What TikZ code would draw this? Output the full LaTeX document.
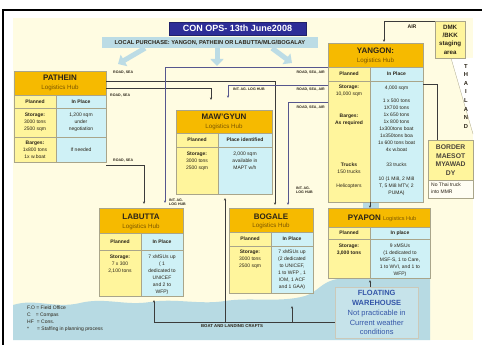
\documentclass[tikz,border=0pt]{standalone}
\usepackage{fontspec}
\setmainfont{Liberation Sans}
\usetikzlibrary{arrows.meta,positioning}

\definecolor{paper}{HTML}{FFFCE2}
\definecolor{sea}{HTML}{B7DAE3}
\definecolor{floatblue}{HTML}{C6E3EA}
\definecolor{floattext}{HTML}{3456A8}
\definecolor{hubgold}{HTML}{F6BA00}
\definecolor{planyellow}{HTML}{FFF59C}
\definecolor{placecyan}{HTML}{CFF1F6}
\definecolor{cellline}{HTML}{A9A58A}
\definecolor{opsblue}{HTML}{2D2D97}
\definecolor{buyblue}{HTML}{BCDCE5}
\definecolor{roadgray}{HTML}{3B3B3B}
\definecolor{agpurple}{HTML}{56568E}
\definecolor{inkdark}{HTML}{2B2418}
\definecolor{subbrown}{HTML}{7A5500}

\newcommand{\cellfont}{\fontsize{5}{7}\selectfont}
\newcommand{\hubnamefont}{\fontsize{8}{9}\selectfont\bfseries}
\newcommand{\hubsubfont}{\fontsize{6.2}{7}\selectfont}
\newcommand{\routefont}{\fontsize{3.6}{4.4}\selectfont\bfseries}

\tikzset{
  hubhead/.style={fill=hubgold, draw=cellline, line width=0.3pt, anchor=north west, inner sep=0pt, outer sep=0pt},
  plancell/.style={fill=planyellow, draw=cellline, line width=0.3pt, anchor=north west, inner sep=0pt, outer sep=0pt, align=center, font=\cellfont, text=inkdark},
  placecell/.style={plancell, fill=placecyan},
  colhead/.style={font=\cellfont\bfseries},
  hubname/.style={font=\hubnamefont, text=inkdark, inner sep=0pt},
  hubsub/.style={font=\hubsubfont, text=subbrown, inner sep=0pt},
  celltext/.style={font=\cellfont, text=inkdark, align=center, inner sep=0pt, anchor=north},
  routelabel/.style={font=\routefont, text=inkdark, inner sep=0pt, align=left},
  road/.style={draw=roadgray, line width=0.6pt},
  agroad/.style={draw=agpurple, line width=0.6pt},
  >={Stealth[length=2.6pt,width=2.2pt]},
  buyarrow/.style={draw=buyblue, line width=5pt, -{Triangle[length=7pt,width=13pt]}}
}

\begin{document}
\begin{tikzpicture}[x=1pt, y=-1pt]
\useasboundingbox (0,0) rectangle (482,345);
\fill[white] (0,0) rectangle (482,345);
\fill[paper] (13,18) rectangle (473,340);
\draw[line width=1.3pt] (3,345) -- (3,10) -- (482,10);

% Thailand edge
\fill[white] (451,58) -- (474,58) -- (474,136) -- cycle;
\draw[cellline, line width=0.3pt] (451,58) -- (473,134);

% sea and river
\fill[sea] (13,305) .. controls (35,298) and (55,309) .. (80,303)
  .. controls (105,297) and (125,306) .. (150,302)
  .. controls (175,298) and (200,305) .. (225,301)
  .. controls (250,297) and (280,303) .. (305,296)
  .. controls (318,292) and (322,281) .. (338,279)
  -- (430,278) -- (430,340) -- (13,340) -- cycle;
\fill[sea] (363,200) rectangle (379,210);

% title
\node[fill=opsblue, draw=opsblue!70!black, minimum width=137pt, minimum height=13pt, inner sep=0pt, text=white, font=\fontsize{9}{10}\selectfont\bfseries] (title) at (237.5,28.5) {CON OPS- 13th June2008};
\node[fill=buyblue, minimum width=216pt, minimum height=11pt, inner sep=0pt, text=inkdark, font=\fontsize{5.7}{6}\selectfont\bfseries] (purchase) at (210,42.5) {LOCAL PURCHASE: YANGON, PATHEIN OR LABUTTA/MLG/BOGALAY};
\coordinate (buyleft) at (118,64);
\coordinate (buymid) at (217,66);
\coordinate (buyright) at (292,63);
\draw[buyarrow] (purchase.south -| 145,0) -- (buyleft);
\draw[buyarrow] (purchase.south -| buymid) -- (buymid);
\draw[buyarrow] (purchase.south -| 272,0) -- (buyright);

% Pathein
\node[hubhead, minimum width=92pt, minimum height=24pt] (pathein) at (14,71) {};
\node[hubname] (patheinname) at (60,78) {PATHEIN};
\node[hubsub] (patheinsub) at (60,88) {Logistics Hub};
\node[plancell, colhead, minimum width=42pt, minimum height=13pt] (patheinplan) at (14,95) {Planned};
\node[placecell, colhead, minimum width=50pt, minimum height=13pt] (patheinplace) at (56,95) {In Place};
\node[plancell, minimum width=42pt, minimum height=29pt] (patheinstore) at (14,108) {\textbf{Storage:}\\3000 tons\\2500 sqm};
\node[placecell, minimum width=50pt, minimum height=29pt] (patheinsqm) at (56,108) {1,200 sqm\\under\\negotiation};
\node[plancell, minimum width=42pt, minimum height=25pt] (patheinbarge) at (14,137) {\textbf{Barges:}\\1x800 tons\\1x w.boat};
\node[placecell, minimum width=50pt, minimum height=25pt] (patheinneed) at (56,137) {If needed};

% Maw'Gyun
\node[hubhead, minimum width=96pt, minimum height=23pt] (mawgyun) at (176,110) {};
\node[hubname] (mawgyunname) at (224,117) {MAW'GYUN};
\node[hubsub] (mawgyunsub) at (224,127) {Logistics Hub};
\node[plancell, colhead, minimum width=42pt, minimum height=14pt] (mawgyunplan) at (176,133) {Planned};
\node[placecell, colhead, minimum width=54pt, minimum height=14pt] (mawgyunplace) at (218,133) {Place identified};
\node[plancell, minimum width=42pt, minimum height=47pt] (mawgyunstore) at (176,147) {};
\node[placecell, minimum width=54pt, minimum height=47pt] (mawgyunavail) at (218,147) {};
\node[celltext] (mawgyunst) at (197,152) {\textbf{Storage:}\\3000 tons\\2500 sqm};
\node[celltext] (mawgyunav) at (245,152) {2,000 sqm\\available in\\MAPT w/h};

% Yangon
\node[hubhead, minimum width=95pt, minimum height=24pt] (yangon) at (328,43) {};
\node[hubname] (yangonname) at (375.5,51) {YANGON:};
\node[hubsub] (yangonsub) at (375.5,61) {Logistics Hub};
\node[plancell, colhead, minimum width=42pt, minimum height=14pt] (yangonplan) at (328,67) {Planned};
\node[placecell, colhead, minimum width=53pt, minimum height=14pt] (yangonplace) at (370,67) {In Place};
\node[plancell, minimum width=42pt, minimum height=121pt] (yangonstore) at (328,81) {};
\node[placecell, minimum width=53pt, minimum height=121pt] (yangonstock) at (370,81) {};
\node[celltext] (yangonst) at (349,85) {\textbf{Storage:}\\10,000 sqm};
\node[celltext] (yangonbg) at (349,114) {\textbf{Barges:}\\\textbf{As required}};
\node[celltext] (yangontr) at (349,163) {\textbf{Trucks}\\150 trucks};
\node[celltext] (yangonhe) at (349,184) {Helicopters};
\node[celltext] (yangonsq) at (396.5,86) {4,000 sqm};
\node[celltext] (yangonbt) at (396.5,99) {1 x 500 tons\\1X700 tons\\1x 650 tons\\1x 800 tons\\1x300tons boat\\1x350tons boa\\1x 600 tons boat\\4x w.boat};
\node[celltext] (yangontk) at (396.5,163) {33 trucks};
\node[celltext] (yangonmi) at (396.5,177) {10 (1 Mi8, 2 Mi8\\T, 5 Mi8 MTV, 2\\PUMA)};

% DMK, border, Thailand
\node[fill=planyellow, draw=cellline, line width=0.3pt, minimum width=30pt, minimum height=37pt, anchor=north west, inner sep=0pt, align=center, font=\fontsize{6.2}{8.3}\selectfont\bfseries, text=inkdark] (dmk) at (435,21) {DMK\\/BKK\\staging\\area};
\node[fill=planyellow, draw=cellline, line width=0.3pt, minimum width=45pt, minimum height=40pt, anchor=north west, inner sep=0pt, align=center, font=\fontsize{6.8}{8.5}\selectfont\bfseries, text=inkdark!85] (border) at (428,140) {BORDER\\MAESOT\\MYAWAD\\DY};
\node[fill=white!60!paper, draw=cellline, line width=0.3pt, minimum width=45pt, minimum height=18pt, anchor=north west, inner sep=0pt] (nothai) at (428,180) {};
\node[font=\cellfont, align=left, anchor=north west, inner sep=0pt, text=inkdark] (nothaitext) at (431,182.5) {No Thai truck\\into MMR};
\node[font=\fontsize{5.8}{8.6}\selectfont\bfseries, align=center, inner sep=0pt, text=inkdark, anchor=north] (thailand) at (466,64) {T\\H\\A\\I\\L\\A\\N\\D};

% Labutta
\node[hubhead, minimum width=84pt, minimum height=25pt] (labutta) at (99,208) {};
\node[hubname] (labuttaname) at (141,217) {LABUTTA};
\node[hubsub] (labuttasub) at (141,227) {Logistics Hub};
\node[plancell, colhead, minimum width=42pt, minimum height=17pt] (labuttaplan) at (99,233) {Planned};
\node[placecell, colhead, minimum width=42pt, minimum height=17pt] (labuttaplace) at (141,233) {In Place};
\node[plancell, minimum width=42pt, minimum height=46pt] (labuttastore) at (99,250) {};
\node[placecell, minimum width=42pt, minimum height=46pt] (labuttamsu) at (141,250) {};
\node[celltext] (labuttast) at (120,255) {\textbf{Storage:}\\7 x 300\\2,100 tons};
\node[celltext] (labuttams) at (162,255) {7 xMSUs up\\( 1\\dedicated to\\UNICEF\\and 2 to\\WFP)};

% Bogale
\node[hubhead, minimum width=84pt, minimum height=24pt] (bogale) at (229,208) {};
\node[hubname] (bogalename) at (271,217) {BOGALE};
\node[hubsub] (bogalesub) at (271,226) {Logistics Hub};
\node[plancell, colhead, minimum width=42pt, minimum height=14pt] (bogaleplan) at (229,232) {Planned};
\node[placecell, colhead, minimum width=42pt, minimum height=14pt] (bogaleplace) at (271,232) {In Place};
\node[plancell, minimum width=42pt, minimum height=47pt] (bogalestore) at (229,246) {};
\node[placecell, minimum width=42pt, minimum height=47pt] (bogalemsu) at (271,246) {};
\node[celltext] (bogalest) at (250,250) {\textbf{Storage:}\\3000 tons\\2500 sqm};
\node[celltext] (bogalems) at (292,250) {7 xMSUs up\\(2 dedicated\\to UNICEF,\\1 to WFP , 1\\IOM, 1 ACF\\and 1 GAA)};

% Pyapon
\node[hubhead, minimum width=102pt, minimum height=19pt] (pyapon) at (328,208) {};
\node[hubname] (pyaponname) at (382,218) {PYAPON \textcolor{subbrown}{\mdseries\fontsize{5.5}{6}\selectfont Logistics Hub}};
\node[plancell, colhead, minimum width=42pt, minimum height=12pt] (pyaponplan) at (328,227) {Planned};
\node[placecell, colhead, minimum width=60pt, minimum height=12pt] (pyaponplace) at (370,227) {In place};
\node[plancell, minimum width=42pt, minimum height=39pt] (pyaponstore) at (328,239) {};
\node[placecell, minimum width=60pt, minimum height=39pt] (pyaponmsu) at (370,239) {};
\node[celltext] (pyaponst) at (349,244) {\textbf{Storage:}\\\textbf{3,000 tons}};
\node[celltext] (pyaponms) at (400,244) {9 xMSUs\\(1 dedicated to\\MSF-S, 1 to Care,\\1 to WVI, and 1 to\\WFP)};

% floating warehouse
\node[fill=floatblue, draw=cellline!60, line width=0.3pt, minimum width=83pt, minimum height=51pt, anchor=north west, inner sep=0pt, align=center, text=floattext, font=\fontsize{7.5}{9.8}\selectfont] (floating) at (335,287) {\textbf{FLOATING}\\\textbf{WAREHOUSE}\\Not practicable in\\Current weather\\conditions};

% legend
\node[font=\fontsize{5}{7}\selectfont, align=left, anchor=north west, inner sep=0pt, text=inkdark] (legend) at (27,306) {F.O = Field Office\\C\hspace{5pt}= Compas\\HF\hspace{3pt}= Cons.\\*\hspace{8pt}= Staffing in planning process};

% routes from Pathein
\draw[road,->] (pathein.east |- 0,81) -| ([xshift=4pt,yshift=3pt]bogale.north);
\draw[road,->] (pathein.east |- 0,88) -| ([xshift=-13pt,yshift=10pt]mawgyun.north);
\draw[road,->] ([yshift=-3pt]patheinneed.south east) -| ([xshift=3pt,yshift=4pt]labutta.north);
\node[routelabel, anchor=west] (roadsea1) at (113,73) {ROAD, SEA};
\node[routelabel, anchor=west] (roadsea2) at (110,96) {ROAD, SEA};
\node[routelabel, anchor=west] (roadsea3) at (113,161) {ROAD, SEA};

% routes from Yangon
\draw[agroad,->] (yangon.south west) -| ([xshift=24pt,yshift=5pt]labutta.north);
\draw[agroad,->] (yangonstore.west |- 0,85) -| ([xshift=4pt,yshift=12pt]mawgyun.north);
\draw[agroad,->] (yangonstore.west |- 0,102) -| ([xshift=17pt,yshift=3pt]bogale.north);
\draw[road,->] (yangonstore.south east) -- (yangonstore.south east |- pyapon.north);
\draw[road] (yangonstock.east |- 0,84) -| ([xshift=-13.5pt]border.north);
\draw[road,->] (dmk.north west) -| ([xshift=8.5pt,yshift=1pt]yangon.north);
\node[routelabel, font=\fontsize{5.2}{6}\selectfont\bfseries] (airlabel) at (412,27) {AIR};
\node[routelabel, anchor=east] (roadair1) at (325,73) {ROAD, SEA, AIR};
\node[routelabel, anchor=east] (roadair2) at (325,90) {ROAD, SEA, AIR};
\node[routelabel, anchor=east] (roadair3) at (325,108) {ROAD, SEA, AIR};
\node[routelabel, anchor=west] (aghub1) at (233,89) {INT. AG. LOG HUB};
\node[routelabel, anchor=west] (aghub2) at (169,202) {INT. AG.\\LOG HUB};
\node[routelabel, anchor=west] (aghub3) at (296,190) {INT. AG.\\LOG HUB};

% boats
\draw[road,->] (floating.west |- 0,322) -| ([xshift=-8pt,yshift=-4pt]labuttamsu.south);
\draw[road,->] ([xshift=-20pt]mawgyunavail.south |- 0,322) -- ([xshift=-20pt,yshift=-4pt]mawgyunavail.south);
\draw[road,->] (bogalemsu.south |- 0,322) -- ([yshift=-13pt]bogalemsu.south);
\draw[road,->] (floating.north -| pyaponstore.south east) -- ([yshift=-2pt]pyaponstore.south east);
\node[font=\fontsize{4.3}{5}\selectfont\bfseries, text=inkdark, inner sep=0pt] (boatlabel) at (232,326) {BOAT AND LANDING CRAFTS};
\end{tikzpicture}
\end{document}
